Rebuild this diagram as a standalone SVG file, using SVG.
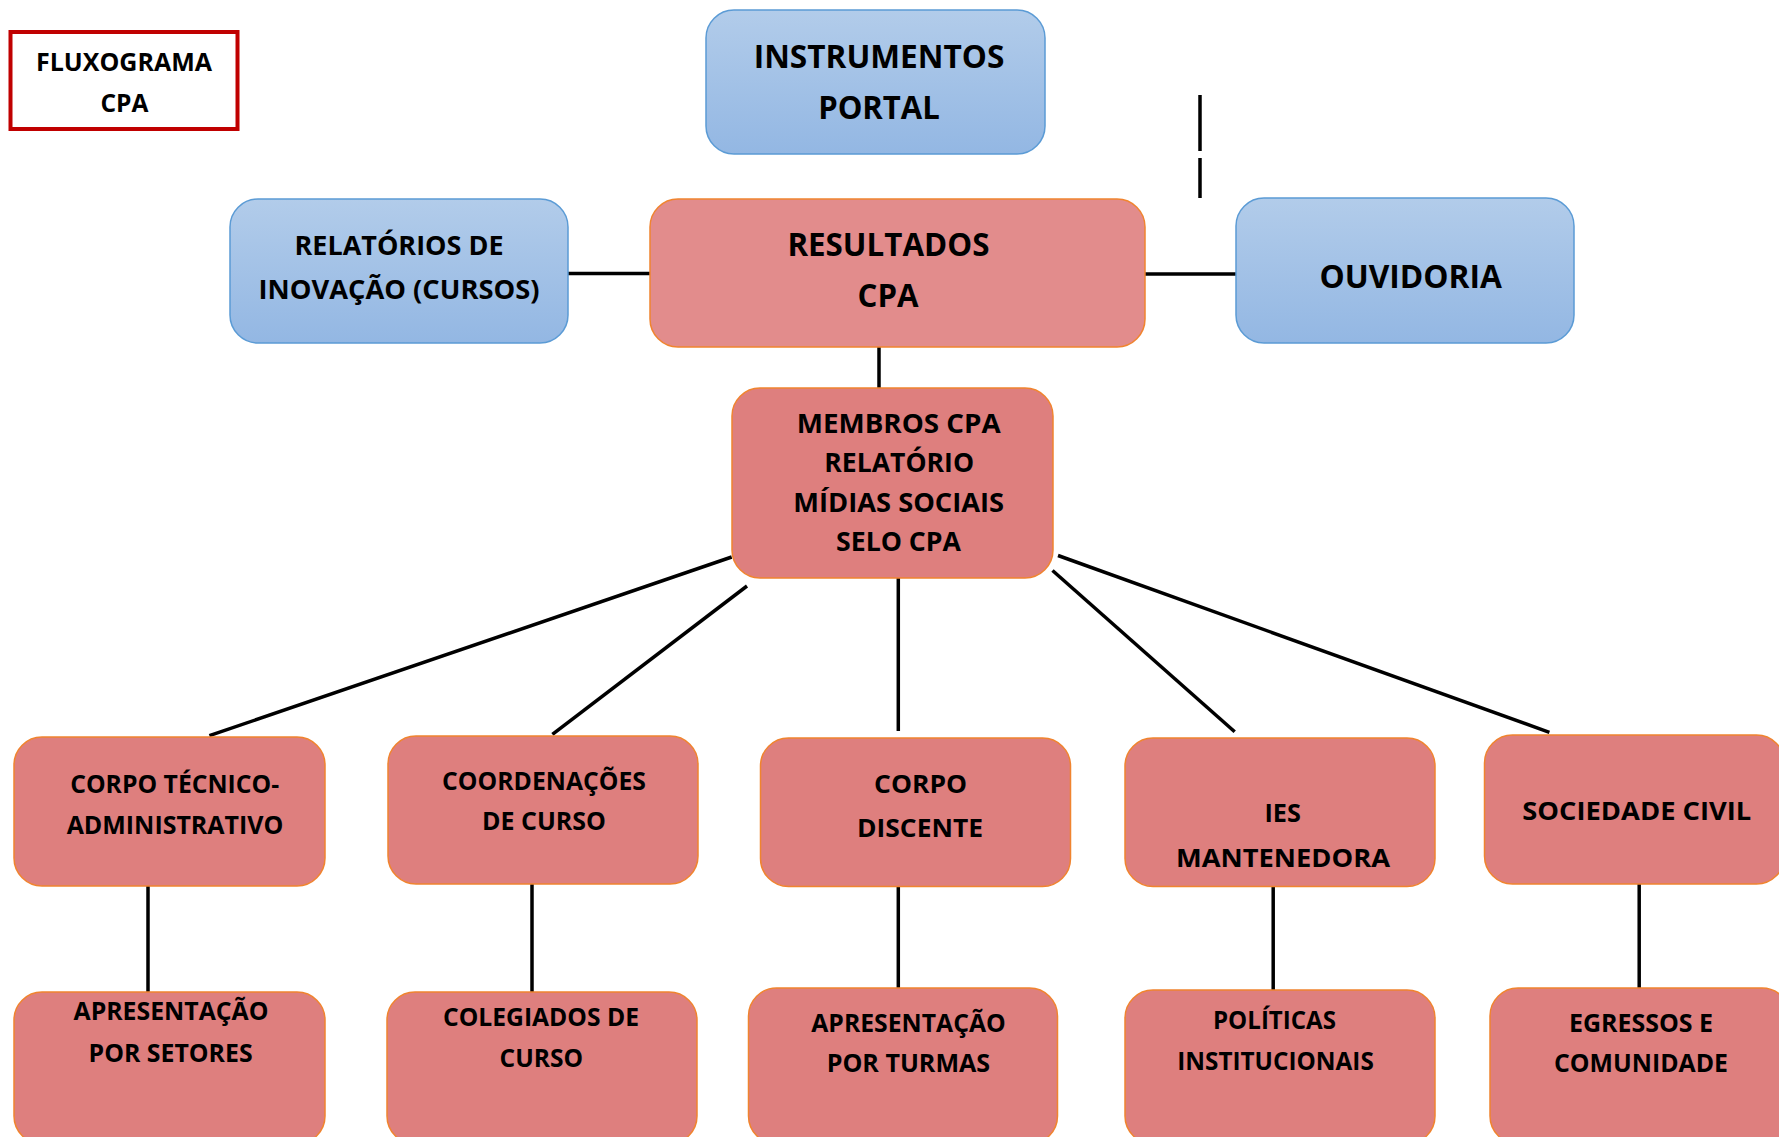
<svg xmlns="http://www.w3.org/2000/svg" width="1779" height="1137" viewBox="0 0 1779 1137">
<defs>
<linearGradient id="blueGrad" x1="0" y1="0" x2="0" y2="1">
<stop offset="0" stop-color="#B2CCEA"/>
<stop offset="1" stop-color="#93B7E3"/>
</linearGradient>
</defs>
<style>
.blue{fill:url(#blueGrad);stroke:#5B9BD5;stroke-width:1.5}
.red{fill:#DE7F7E;stroke:#F0842F;stroke-width:1.5}
.red2{fill:#E28C8C;stroke:#F0842F;stroke-width:1.5}
.title{fill:#FFFFFF;stroke:#C00000;stroke-width:4}
text{font-family:"Open Sans","Liberation Sans",Arial,sans-serif;font-weight:700;fill:#000;text-anchor:middle}
.f25{font-size:25px}
.f26{font-size:26.5px}
.f31{font-size:31.5px}
.f32{font-size:32.5px}
.conn line{stroke:#000;stroke-width:3.5;stroke-linecap:butt}
</style>
<rect width="1779" height="1137" fill="#FFFFFF"/>
<g class="conn" id="connectors">
<line x1="879" y1="347" x2="879" y2="388"/>
<line x1="568" y1="273.5" x2="650" y2="273.5"/>
<line x1="1145" y1="274" x2="1236" y2="274"/>
<line x1="1200" y1="95" x2="1200" y2="151"/>
<line x1="1200" y1="158" x2="1200" y2="198"/>
<line x1="731.7" y1="557" x2="209.4" y2="735.7"/>
<line x1="747" y1="586" x2="552.4" y2="734.3"/>
<line x1="898.3" y1="578" x2="898.3" y2="731"/>
<line x1="1052.5" y1="570.5" x2="1234.7" y2="731.7"/>
<line x1="1058" y1="555.5" x2="1549.4" y2="732.3"/>
<line x1="148" y1="886" x2="148" y2="992"/>
<line x1="532" y1="884" x2="532" y2="992"/>
<line x1="898.3" y1="886" x2="898.3" y2="988"/>
<line x1="1273.2" y1="887" x2="1273.2" y2="990"/>
<line x1="1639.2" y1="884" x2="1639.2" y2="988"/>
</g>
<g id="fluxograma">
<rect class="title" x="10.5" y="32" width="227" height="97"/>
<text class="f25" x="124" y="71" textLength="176" lengthAdjust="spacingAndGlyphs">FLUXOGRAMA</text>
<text class="f25" x="124.4" y="111.7" textLength="48" lengthAdjust="spacingAndGlyphs">CPA</text>
</g>
<g id="instrumentos">
<rect class="blue" x="706" y="10" width="339" height="144" rx="28"/>
<text class="f32" x="879" y="68.3" textLength="250.6" lengthAdjust="spacingAndGlyphs">INSTRUMENTOS</text>
<text class="f32" x="879" y="119.3" textLength="121.7" lengthAdjust="spacingAndGlyphs">PORTAL</text>
</g>
<g id="relatorios">
<rect class="blue" x="230" y="199" width="338" height="144" rx="28"/>
<text class="f26" x="399" y="255" textLength="209" lengthAdjust="spacingAndGlyphs">RELATÓRIOS DE</text>
<text class="f26" x="399" y="299.3" textLength="281" lengthAdjust="spacingAndGlyphs">INOVAÇÃO (CURSOS)</text>
</g>
<g id="resultados">
<rect class="red2" x="650" y="199" width="495" height="148" rx="28"/>
<text class="f31" x="888.4" y="256" textLength="202" lengthAdjust="spacingAndGlyphs">RESULTADOS</text>
<text class="f31" x="888" y="307.3" textLength="61" lengthAdjust="spacingAndGlyphs">CPA</text>
</g>
<g id="ouvidoria">
<rect class="blue" x="1236" y="198" width="338" height="145" rx="28"/>
<text class="f31" x="1410.7" y="288.3" textLength="182.6" lengthAdjust="spacingAndGlyphs">OUVIDORIA</text>
</g>
<g id="membros">
<rect class="red" x="732" y="388" width="321" height="190" rx="28"/>
<text class="f26" x="898.7" y="433.3" textLength="204" lengthAdjust="spacingAndGlyphs">MEMBROS CPA</text>
<text class="f26" x="899.2" y="472.3" textLength="149.7" lengthAdjust="spacingAndGlyphs">RELATÓRIO</text>
<text class="f26" x="898.7" y="511.7" textLength="210.7" lengthAdjust="spacingAndGlyphs">MÍDIAS SOCIAIS</text>
<text class="f26" x="898.5" y="550.7" textLength="125" lengthAdjust="spacingAndGlyphs">SELO CPA</text>
</g>
<g id="corpo-tecnico">
<rect class="red" x="14" y="737" width="311" height="149" rx="28"/>
<text class="f25" x="174.7" y="792.7" textLength="209" lengthAdjust="spacingAndGlyphs">CORPO TÉCNICO-</text>
<text class="f25" x="175" y="834.3" textLength="216.7" lengthAdjust="spacingAndGlyphs">ADMINISTRATIVO</text>
</g>
<g id="coordenacoes">
<rect class="red" x="388" y="736" width="310" height="148" rx="28"/>
<text class="f25" x="544" y="790" textLength="204" lengthAdjust="spacingAndGlyphs">COORDENAÇÕES</text>
<text class="f25" x="544" y="830" textLength="124" lengthAdjust="spacingAndGlyphs">DE CURSO</text>
</g>
<g id="corpo-discente">
<rect class="red" x="760.5" y="738" width="310" height="148.5" rx="28"/>
<text class="f25" x="920.6" y="792.7" textLength="93" lengthAdjust="spacingAndGlyphs">CORPO</text>
<text class="f25" x="920" y="837.3" textLength="126" lengthAdjust="spacingAndGlyphs">DISCENTE</text>
</g>
<g id="ies-mantenedora">
<rect class="red" x="1125" y="738" width="310" height="148.5" rx="28"/>
<text class="f25" x="1282.6" y="821.7" textLength="36.4" lengthAdjust="spacingAndGlyphs">IES</text>
<text class="f25" x="1283" y="866.7" textLength="214" lengthAdjust="spacingAndGlyphs">MANTENEDORA</text>
</g>
<g id="sociedade-civil">
<rect class="red" x="1484.5" y="735" width="300" height="149" rx="28"/>
<text class="f25" x="1636.8" y="820" textLength="229" lengthAdjust="spacingAndGlyphs">SOCIEDADE CIVIL</text>
</g>
<g id="apresentacao-setores">
<rect class="red" x="14" y="992" width="311" height="152" rx="28"/>
<text class="f25" x="171" y="1020" textLength="195" lengthAdjust="spacingAndGlyphs">APRESENTAÇÃO</text>
<text class="f25" x="170.6" y="1061.7" textLength="164" lengthAdjust="spacingAndGlyphs">POR SETORES</text>
</g>
<g id="colegiados">
<rect class="red" x="387" y="992" width="310" height="152" rx="28"/>
<text class="f25" x="541" y="1026" textLength="196" lengthAdjust="spacingAndGlyphs">COLEGIADOS DE</text>
<text class="f25" x="541.4" y="1067.3" textLength="83.6" lengthAdjust="spacingAndGlyphs">CURSO</text>
</g>
<g id="apresentacao-turmas">
<rect class="red" x="748.5" y="988" width="309" height="156" rx="28"/>
<text class="f25" x="908.5" y="1031.7" textLength="194.5" lengthAdjust="spacingAndGlyphs">APRESENTAÇÃO</text>
<text class="f25" x="908.4" y="1072.3" textLength="163.5" lengthAdjust="spacingAndGlyphs">POR TURMAS</text>
</g>
<g id="politicas">
<rect class="red" x="1125" y="990" width="310" height="154" rx="28"/>
<text class="f25" x="1274.5" y="1029.3" textLength="123" lengthAdjust="spacingAndGlyphs">POLÍTICAS</text>
<text class="f25" x="1275.5" y="1070" textLength="196.6" lengthAdjust="spacingAndGlyphs">INSTITUCIONAIS</text>
</g>
<g id="egressos">
<rect class="red" x="1490" y="988" width="300" height="156" rx="28"/>
<text class="f25" x="1641" y="1031.7" textLength="144" lengthAdjust="spacingAndGlyphs">EGRESSOS E</text>
<text class="f25" x="1641" y="1072.3" textLength="174" lengthAdjust="spacingAndGlyphs">COMUNIDADE</text>
</g>
</svg>
